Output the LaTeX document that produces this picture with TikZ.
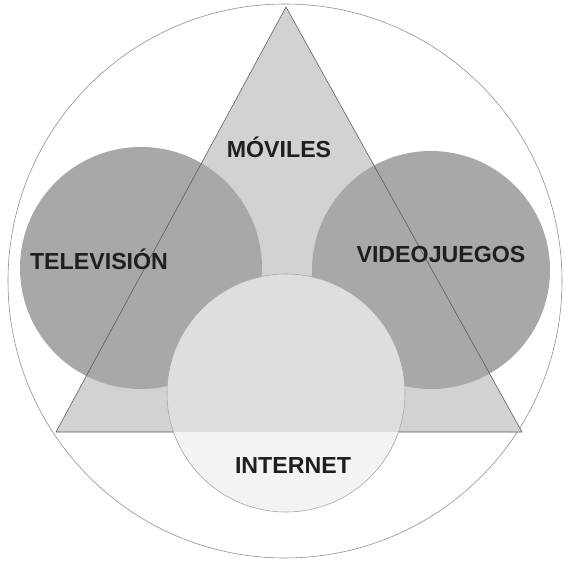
\documentclass[tikz,border=0pt]{standalone}
\usepackage{fontspec}
\setmainfont{Liberation Sans}
\usepackage{xcolor}
\definecolor{trifill}{RGB}{210,210,210}
\definecolor{discfill}{RGB}{168,168,168}
\definecolor{netfill}{RGB}{222,222,222}
\definecolor{netlow}{RGB}{243,243,243}
\definecolor{rimgray}{RGB}{140,140,140}
\tikzset{medialabel/.style={anchor=base,font=\fontsize{16.5}{18}\selectfont\bfseries,text=black!88}}

\begin{document}
\begin{tikzpicture}
    \useasboundingbox (0,0) rectangle (14.1,-14.05);
    % outer circle
    \draw[rimgray,fill=white] (7.125,-7.025) circle (6.925);
    % triangle
    \fill[trifill] (7.15,-0.175) -- (1.4,-10.8) -- (13.05,-10.8) -- cycle;
    % television and videogames
    \fill[discfill] (3.525,-6.7) circle (3.025);
    \fill[discfill] (10.775,-6.75) circle (2.975);
    \draw[black!65] (7.15,-0.175) -- (1.4,-10.8) -- (13.05,-10.8) -- cycle;
    % internet, lighter below the base of the triangle
    \fill[netfill] (7.15,-9.825) circle (2.975);
    \begin{scope}
        \clip (7.15,-9.825) circle (2.975);
        \fill[netlow] (4,-10.8) rectangle (10.3,-13);
    \end{scope}
    \draw[gray!70] (7.15,-9.825) circle (2.975);
    % labels
    \node[medialabel] (moviles) at (6.975,-3.925) {MÓVILES};
    \node[medialabel] (tele) at (2.475,-6.725) {TELEVISIÓN};
    \node[medialabel] (juegos) at (11.025,-6.55) {VIDEOJUEGOS};
    \node[medialabel] (internet) at (7.325,-11.825) {INTERNET};
\end{tikzpicture}
\end{document}
